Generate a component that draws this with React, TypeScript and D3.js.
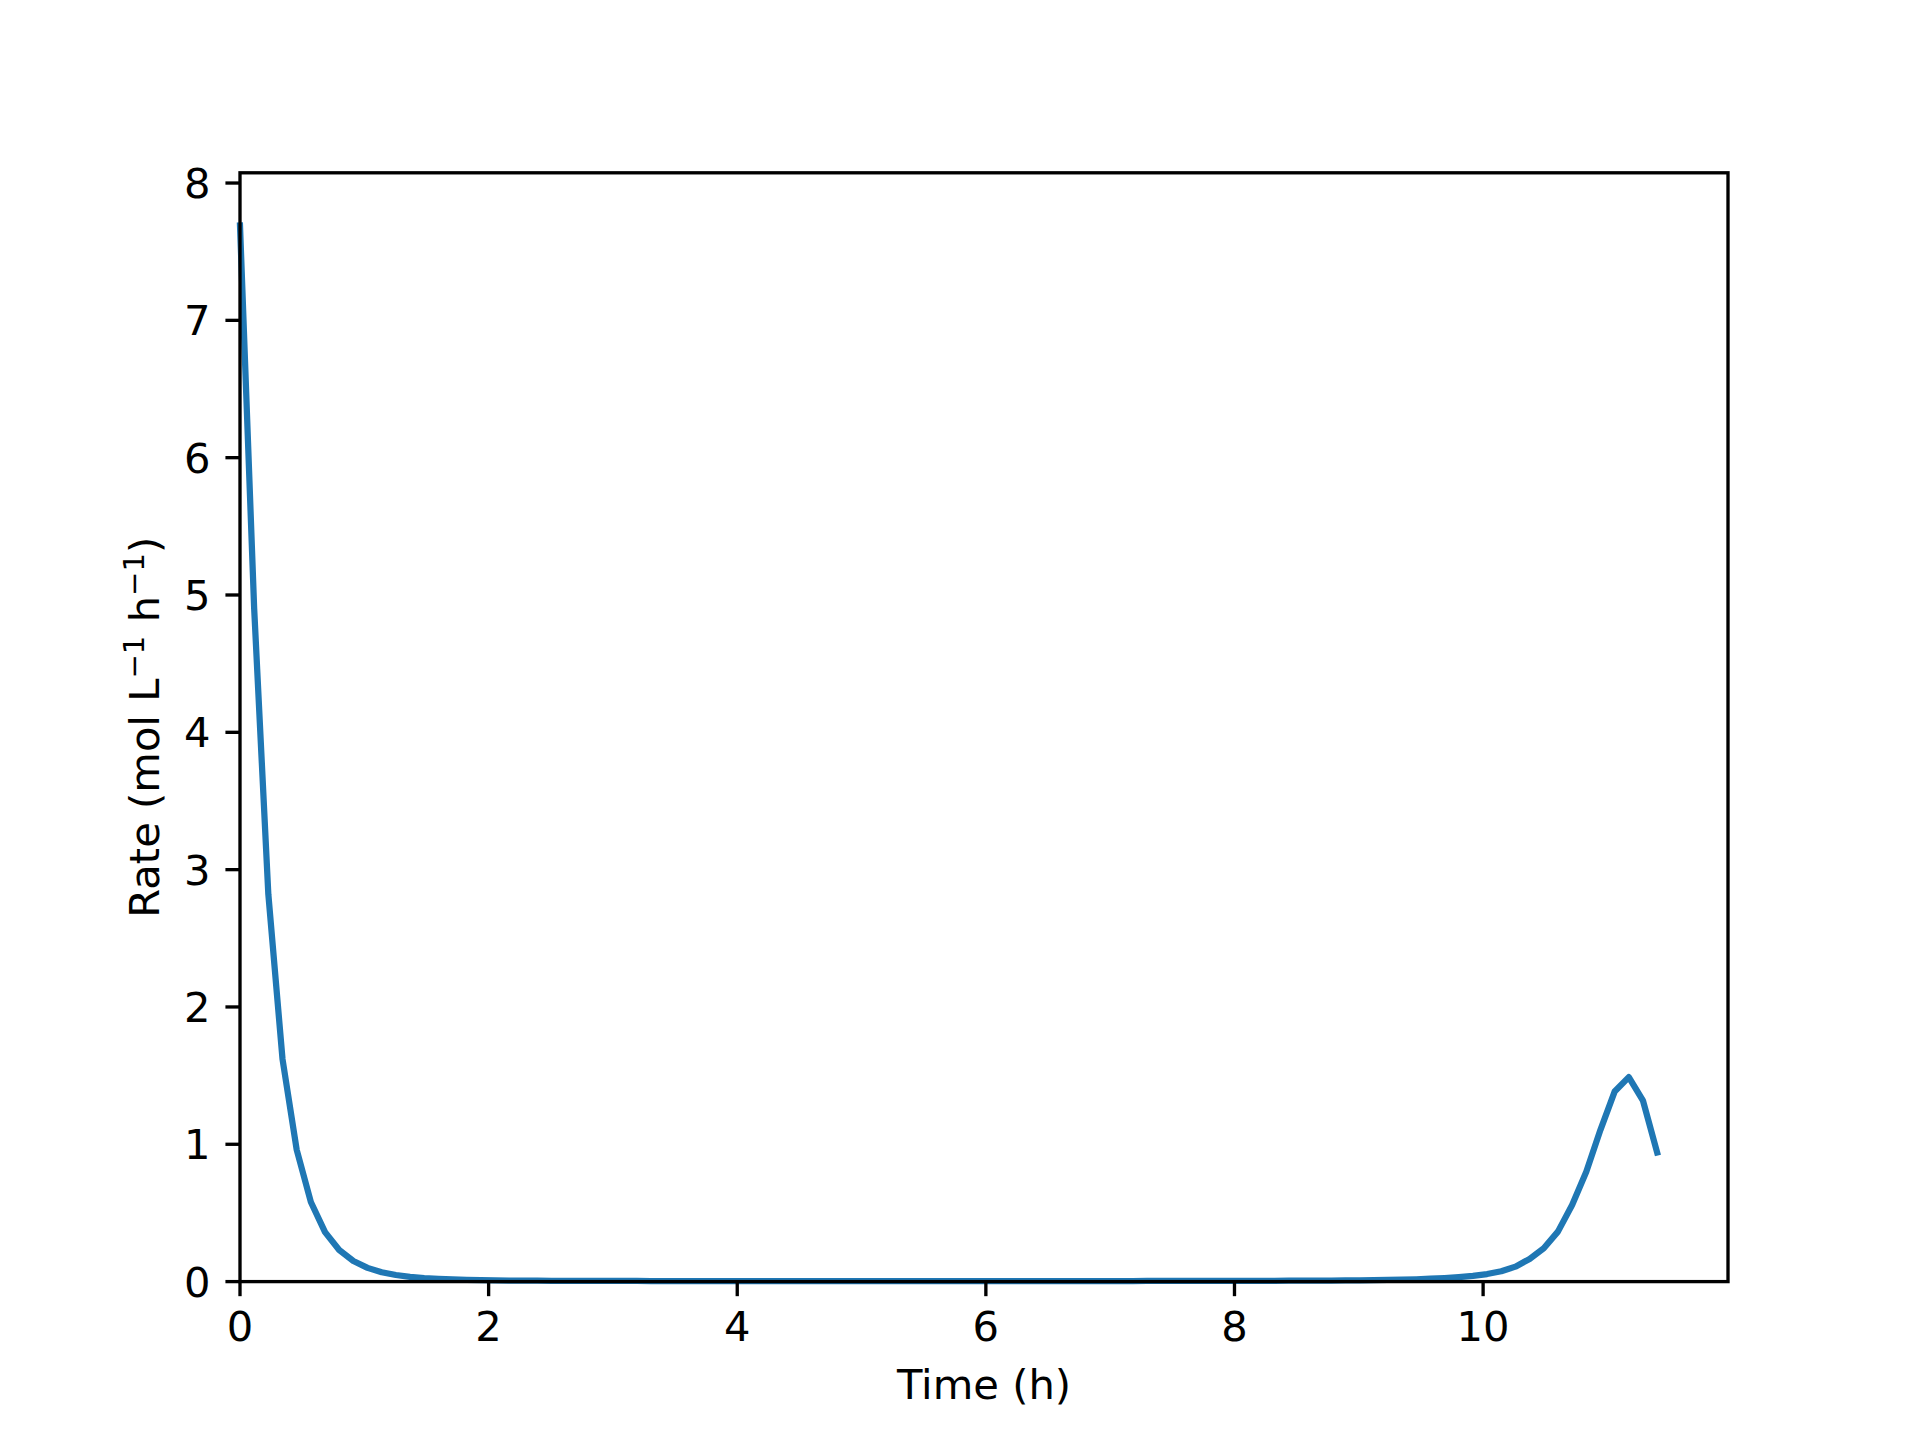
import React from 'react';
import * as d3 from 'd3';

// time points (h)
const times: number[] = [
  0.0, 0.114, 0.228, 0.342, 0.456, 0.57, 0.684, 0.798, 0.912, 1.026,
  1.14, 1.254, 1.368, 1.482, 1.596, 1.71, 1.824, 1.938, 2.052, 2.166,
  2.28, 2.394, 2.508, 2.622, 2.736, 2.85, 2.964, 3.078, 3.192, 3.306,
  3.42, 3.534, 3.648, 3.762, 3.876, 3.99, 4.104, 4.218, 4.332, 4.446,
  4.56, 4.674, 4.788, 4.902, 5.016, 5.13, 5.244, 5.358, 5.472, 5.586,
  5.7, 5.814, 5.928, 6.042, 6.156, 6.27, 6.384, 6.498, 6.612, 6.726,
  6.84, 6.954, 7.068, 7.182, 7.296, 7.41, 7.524, 7.638, 7.752, 7.866,
  7.98, 8.094, 8.208, 8.322, 8.436, 8.55, 8.664, 8.778, 8.892, 9.006,
  9.12, 9.234, 9.348, 9.462, 9.576, 9.69, 9.804, 9.918, 10.032, 10.146,
  10.26, 10.374, 10.488, 10.602, 10.716, 10.83, 10.944, 11.058, 11.172, 11.286,
  11.4,
];

// rate (mol L^-1 h^-1)
const rates: number[] = [
  7.69, 4.9, 2.82, 1.62, 0.96, 0.58, 0.36, 0.23, 0.15, 0.1,
  0.068, 0.048, 0.035, 0.026, 0.02, 0.016, 0.013, 0.011, 0.009, 0.008,
  0.007, 0.0065, 0.006, 0.0055, 0.005, 0.0048, 0.0046, 0.0045, 0.0044, 0.0043,
  0.0042, 0.0041, 0.004, 0.004, 0.004, 0.004, 0.004, 0.004, 0.004, 0.004,
  0.004, 0.004, 0.004, 0.004, 0.004, 0.004, 0.004, 0.004, 0.004, 0.004,
  0.004, 0.004, 0.004, 0.004, 0.004, 0.004, 0.004, 0.004, 0.004, 0.004,
  0.004, 0.0041, 0.0042, 0.0043, 0.0044, 0.0045, 0.0046, 0.0048, 0.005, 0.0052,
  0.0054, 0.0056, 0.0058, 0.006, 0.0065, 0.007, 0.0075, 0.008, 0.009, 0.0095,
  0.01, 0.012, 0.014, 0.017, 0.021, 0.026, 0.033, 0.042, 0.055, 0.075,
  0.109, 0.165, 0.243, 0.364, 0.558, 0.8, 1.105, 1.384, 1.489, 1.318,
  0.94,
];

const xTicks = [0, 2, 4, 6, 8, 10];
const yTicks = [0, 1, 2, 3, 4, 5, 6, 7, 8];

const W = 1920;
const H = 1440;
const margin = { left: 240, right: 192, top: 172.8, bottom: 158.4 };
const FONT = '"DejaVu Sans", sans-serif';
const FS = 41.67;
const TICK = 14.58;
const LW = 3.33;

const App: React.FC = () => {
  const x = d3
    .scaleLinear()
    .domain([0, (d3.max(times) as number) * 1.05])
    .range([margin.left, W - margin.right]);
  const y = d3
    .scaleLinear()
    .domain([0, (d3.max(rates) as number) * 1.05])
    .range([H - margin.bottom, margin.top]);

  const line = d3
    .line<number>()
    .x((_, i) => x(times[i]))
    .y(d => y(d));

  const x0 = margin.left;
  const x1 = W - margin.right;
  const y0 = H - margin.bottom;
  const y1 = margin.top;

  return (
    <svg
      width={W}
      height={H}
      style={{ position: 'absolute', left: 0, top: 0, background: '#fff' }}
      fontFamily={FONT}
    >
      <rect x={0} y={0} width={W} height={H} fill="#fff" />

      {/* data line */}
      <path
        d={line(rates) || ''}
        fill="none"
        stroke="#1f77b4"
        strokeWidth={6.25}
        strokeLinejoin="round"
        strokeLinecap="square"
      />

      {/* spines */}
      <rect
        x={x0}
        y={y1}
        width={x1 - x0}
        height={y0 - y1}
        fill="none"
        stroke="#000"
        strokeWidth={LW}
      />

      {/* x axis ticks */}
      {xTicks.map(t => (
        <g key={'x' + t}>
          <line x1={x(t)} x2={x(t)} y1={y0} y2={y0 + TICK} stroke="#000" strokeWidth={LW} />
          <text x={x(t)} y={1340.7} fontSize={FS} textAnchor="middle" fill="#000">
            {t}
          </text>
        </g>
      ))}

      {/* y axis ticks */}
      {yTicks.map(t => (
        <g key={'y' + t}>
          <line x1={x0 - TICK} x2={x0} y1={y(t)} y2={y(t)} stroke="#000" strokeWidth={LW} />
          <text x={210.5} y={y(t) + 15.1} fontSize={FS} textAnchor="end" fill="#000">
            {t}
          </text>
        </g>
      ))}

      {/* axis labels */}
      <text x={(x0 + x1) / 2} y={1399} fontSize={FS} textAnchor="middle" fill="#000">
        Time (h)
      </text>
      <text
        transform={`translate(159,${(y0 + y1) / 2}) rotate(-90)`}
        fontSize={FS}
        textAnchor="middle"
        fill="#000"
      >
        Rate (mol L
        <tspan fontSize={FS * 0.7} dy={-FS * 0.37}>
          −1
        </tspan>
        <tspan dy={FS * 0.37}> h</tspan>
        <tspan fontSize={FS * 0.7} dy={-FS * 0.37}>
          −1
        </tspan>
        <tspan dy={FS * 0.37}>)</tspan>
      </text>
    </svg>
  );
};

export default App;
